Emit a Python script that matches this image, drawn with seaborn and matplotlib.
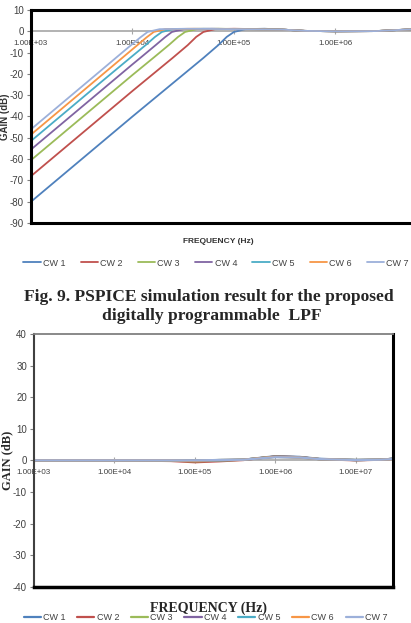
import numpy as np
import pandas as pd
import matplotlib
matplotlib.use("Agg")
import matplotlib.pyplot as plt
from matplotlib.ticker import NullLocator
import seaborn as sns

sns.set_theme(style="white")
plt.rcParams['font.family'] = ['Liberation Sans', 'DejaVu Sans']
plt.rcParams['axes.unicode_minus'] = False

cw_names = ["CW 1", "CW 2", "CW 3", "CW 4", "CW 5", "CW 6", "CW 7"]
cw_colors = ["#4F81BD", "#C0504D", "#9BBB59", "#8064A2", "#4BACC6", "#F79646", "#9CB0DA"]

freq_ticks = [1e3, 1e4, 1e5, 1e6, 1e7]
freq_labels = ["1.00E+03", "1.00E+04", "1.00E+05", "1.00E+06", "1.00E+07"]

# --- Fig. 9 : LPF response (Hz, dB)
tail_f = [3e5, 5e5, 1e6, 2.5e6, 5.5e6]
tail_g = [0.8, 0.2, 0.0, 0.1, 0.9]

lpf_f1 = [1e3, 1e4, 5e4, 7e4, 8.5e4, 1e5, 1.3e5, 2e5]
lpf_g1 = [-80, -40, -12.5, -6.5, -2.6, -0.3, 1.0, 1.2]
lpf_f2 = [1e3, 1e4, 2.5e4, 3.5e4, 4.25e4, 5e4, 6.5e4, 1e5]
lpf_g2 = [-68, -28, -12.4, -6.5, -2.6, -0.3, 1.0, 1.2]
lpf_f3 = [1e3, 1e4, 1.65e4, 2.3e4, 2.8e4, 3.3e4, 4.3e4, 7e4]
lpf_g3 = [-60.5, -20.5, -12.0, -6.3, -2.7, -0.3, 1.0, 1.2]
lpf_f4 = [1e3, 1e4, 1.2e4, 1.7e4, 2.1e4, 2.45e4, 3.2e4, 6e4]
lpf_g4 = [-55.5, -15.5, -12.4, -6.4, -2.7, -0.3, 1.0, 1.2]
lpf_f5 = [1e3, 5e3, 9.75e3, 1.37e4, 1.66e4, 1.95e4, 2.5e4, 5e4]
lpf_g5 = [-51.5, -23.5, -12.0, -6.2, -2.7, -0.3, 1.0, 1.2]
lpf_f6 = [1e3, 5e3, 8.1e3, 1.13e4, 1.38e4, 1.62e4, 2.1e4, 4e4]
lpf_g6 = [-48.5, -20.5, -12.1, -6.3, -2.8, -0.3, 1.0, 1.2]
lpf_f7 = [1e3, 5e3, 7.05e3, 9.9e3, 1.2e4, 1.41e4, 1.85e4, 3.5e4]
lpf_g7 = [-46, -18, -12.0, -6.1, -2.8, -0.3, 1.0, 1.2]

# --- second plot : all codes stay flat around 0 dB
flat_f = [1e3, 1e4, 5e4, 1e5, 2e5, 4e5, 7e5, 1e6, 2e6, 3.5e6, 1e7, 2e7, 2.9e7]
flat_g1 = [0, 0, 0, 0, 0.1, 0.2, 0.9, 1.3, 1.1, 0.5, 0.1, 0.2, 0.5]
flat_g2 = [0, 0, -0.2, -0.6, -0.3, 0.1, 0.8, 1.2, 1.0, 0.4, 0.0, 0.2, 0.5]
flat_g3 = [0, 0, -0.1, -0.3, -0.1, 0.2, 0.8, 1.2, 1.0, 0.4, 0.1, 0.2, 0.5]
flat_g4 = [0, 0, 0, -0.2, 0, 0.2, 0.8, 1.2, 1.0, 0.4, 0.1, 0.2, 0.5]
flat_g5 = [0, 0, 0, -0.1, 0.1, 0.2, 0.8, 1.1, 0.9, 0.4, 0.1, 0.2, 0.5]
flat_g6 = [0, 0, 0, -0.1, 0.1, 0.2, 0.8, 1.1, 0.9, 0.4, 0.1, 0.2, 0.4]
flat_g7 = [0, 0, 0, 0, 0.1, 0.2, 0.7, 1.0, 0.9, 0.4, 0.1, 0.2, 0.4]

lpf_fs = [lpf_f1, lpf_f2, lpf_f3, lpf_f4, lpf_f5, lpf_f6, lpf_f7]
lpf_gs = [lpf_g1, lpf_g2, lpf_g3, lpf_g4, lpf_g5, lpf_g6, lpf_g7]
flat_gs = [flat_g1, flat_g2, flat_g3, flat_g4, flat_g5, flat_g6, flat_g7]

rows1 = []
for name, f, g in zip(cw_names, lpf_fs, lpf_gs):
    for fi, gi in zip(f + tail_f, g + tail_g):
        rows1.append((name, fi, gi))
df1 = pd.DataFrame(rows1, columns=["cw", "freq", "gain"])

rows2 = []
for name, g in zip(cw_names, flat_gs):
    for fi, gi in zip(flat_f, g):
        rows2.append((name, fi, gi))
df2 = pd.DataFrame(rows2, columns=["cw", "freq", "gain"])

fig = plt.figure(figsize=(4.11, 6.23), dpi=100)
fig.patch.set_facecolor("white")

tick_col = "#404040"
serif = ["Liberation Serif", "DejaVu Serif"]


def style_axes(ax, zero_pos, xmax, ylo, yhi, n_ticks):
    ax.set_xscale("log")
    ax.set_xlim(1e3, xmax)
    ax.set_ylim(ylo, yhi)
    ax.set_yticks(range(ylo, yhi + 1, 10))
    ax.xaxis.set_minor_locator(NullLocator())
    ax.tick_params(axis="x", bottom=False, labelbottom=False)
    ax.tick_params(axis="y", left=True, length=3, width=0.8, color="#808080",
                   labelsize=7, labelcolor=tick_col, pad=2)
    ax.set_xlabel("")
    ax.set_ylabel("")
    # horizontal axis crosses at 0 dB, like the spreadsheet chart
    sec = ax.secondary_xaxis(zero_pos)
    sec.set_alignment("bottom")
    sec.set_xticks(freq_ticks[:n_ticks], labels=freq_labels[:n_ticks])
    sec.xaxis.set_minor_locator(NullLocator())
    sec.spines["bottom"].set_color("#a6a6a6")
    sec.spines["bottom"].set_linewidth(1.2)
    sec.tick_params(axis="x", direction="inout", length=4, width=0.8, color="#a6a6a6",
                    labelsize=5.8, labelcolor=tick_col, pad=4)
    return sec


# ---------------- top plot
ax1 = fig.add_axes([31 / 411, 1 - 223 / 623, 380 / 411, 213 / 623])
sns.lineplot(data=df1, x="freq", y="gain", hue="cw", palette=cw_colors,
             estimator=None, sort=False, linewidth=1.3, legend=False, ax=ax1)
style_axes(ax1, 0.9, 5.55e6, -90, 10, 4)
for s in ["top", "left", "bottom"]:
    ax1.spines[s].set_color("black")
    ax1.spines[s].set_linewidth(2.2)
ax1.spines["right"].set_visible(False)
ax1.text(-0.068, 0.5, "GAIN (dB)", transform=ax1.transAxes, rotation=90,
         ha="center", va="center", fontsize=7, fontweight="bold", color="#333333")
fig.text(218 / 411, 1 - 241.7 / 623, "FREQUENCY (Hz)", ha="center", va="center",
         fontsize=6, fontweight="bold", color="#333333")
fig.legend(ax1.get_lines()[:7], cw_names, loc="center",
           bbox_to_anchor=(0.526, 1 - 263 / 623), ncol=7, frameon=False,
           fontsize=6.5, handlelength=1.9, handletextpad=0.25,
           columnspacing=1.7, labelcolor=tick_col)

fig.text(0.508, 1 - 297 / 623, "Fig. 9. PSPICE simulation result for the proposed",
         ha="center", va="center", family=serif, fontweight="bold", fontsize=12.6)
fig.text(0.516, 1 - 316 / 623, "digitally programmable  LPF",
         ha="center", va="center", family=serif, fontweight="bold", fontsize=12.6)

# ---------------- bottom plot
ax2 = fig.add_axes([34 / 411, 1 - 586.7 / 623, 359 / 411, 252.7 / 623])
sns.lineplot(data=df2, x="freq", y="gain", hue="cw", palette=cw_colors,
             estimator=None, sort=False, linewidth=1.6, legend=False, ax=ax2)
style_axes(ax2, 0.5, 2.9e7, -40, 40, 5)
ax2.spines["top"].set_color("#808080")
ax2.spines["top"].set_linewidth(1.3)
ax2.spines["left"].set_color("#404040")
ax2.spines["left"].set_linewidth(1.5)
ax2.spines["right"].set_color("black")
ax2.spines["right"].set_linewidth(2.2)
ax2.spines["bottom"].set_color("black")
ax2.spines["bottom"].set_linewidth(2.5)
ax2.text(-0.074, 0.5, "GAIN (dB)", transform=ax2.transAxes, rotation=90,
         ha="center", va="center", fontsize=9, fontweight="bold", family=serif)
fig.text(208 / 411, 1 - 608 / 623, "FREQUENCY (Hz)", ha="center", va="center",
         fontsize=10, fontweight="bold", family=serif)
fig.legend(ax2.get_lines()[:7], cw_names, loc="center",
           bbox_to_anchor=(0.5, 1 - 618 / 623), ncol=7, frameon=False,
           fontsize=6.5, handlelength=1.9, handletextpad=0.25,
           columnspacing=1.3, labelcolor=tick_col)

fig.savefig("out.png", dpi=100, facecolor="white")
